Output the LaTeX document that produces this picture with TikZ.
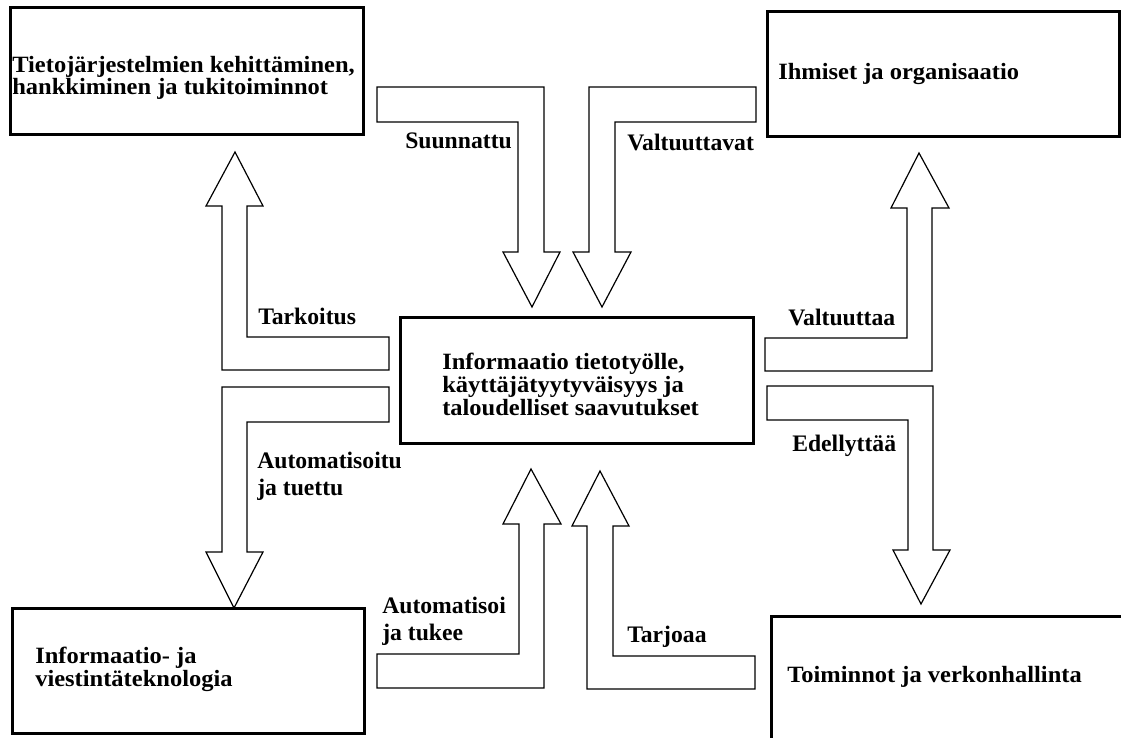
\documentclass[tikz,border=0pt]{standalone}
\usepackage{fontspec}
\setmainfont{Liberation Serif}
\newfontfamily\boxfont[FakeStretch=1.05]{Liberation Serif}
\begin{document}
\begin{tikzpicture}[x=0.75pt,y=-0.75pt,
  box/.style={draw=black, line width=2.25pt, inner sep=0pt, outer sep=0pt, anchor=north west},
  blockarrow/.style={draw=black, line width=0.9pt, fill=white, line join=miter},
  boxtext/.style={anchor=base west, inner sep=0pt, align=left,
    font=\boxfont\bfseries\fontsize{17.5pt}{17pt}\selectfont},
  arrowlabel/.style={anchor=base west, inner sep=0pt, align=left,
    font=\bfseries\fontsize{17.75pt}{20pt}\selectfont}]
\useasboundingbox (0,0) rectangle (1121,738);
\clip (0,0) rectangle (1121,738);
\fill[white] (0,0) rectangle (1121,738);

% framed boxes
\node[box, minimum width=264.75pt, minimum height=95.25pt] (sys) at (10,8) {};
\node[box, minimum width=264pt, minimum height=93.75pt] (org) at (767,12) {};
\node[box, minimum width=264.75pt, minimum height=94.5pt] (info) at (400,317) {};
\node[box, minimum width=264pt, minimum height=93.75pt] (ict) at (12,608) {};
\node[box, minimum width=270pt, minimum height=100pt] (ops) at (771,616) {};

% box texts (multi-line nodes sit on the baseline of their last line)
\node[boxtext] (syst) at (12,95) {Tietojärjestelmien kehittäminen,\\hankkiminen ja tukitoiminnot};
\node[boxtext] (orgt) at (778,80) {Ihmiset ja organisaatio};
\node[boxtext] (infot) at (442,415) {Informaatio tietotyölle,\\käyttäjätyytyväisyys ja\\taloudelliset saavutukset};
\node[boxtext] (ictt) at (35,686) {Informaatio- ja\\viestintäteknologia};
\node[boxtext] (opst) at (787,682) {Toiminnot ja verkonhallinta};

% L-shaped block arrows
% Tarkoitus: centre -> upper left
\draw[blockarrow] (235,152) -- (263,206) -- (247,206) -- (247,337) -- (389,337)
  -- (389,370) -- (222,370) -- (222,206) -- (206,206) -- cycle;
% Suunnattu: upper left -> centre
\draw[blockarrow] (377,87) -- (544,87) -- (544,252) -- (560,252) -- (532,307)
  -- (503,252) -- (518,252) -- (518,122) -- (377,122) -- cycle;
% Valtuuttavat: upper right -> centre
\draw[blockarrow] (756,87) -- (589,87) -- (589,252) -- (573,252) -- (602,307)
  -- (631,252) -- (615,252) -- (615,122) -- (756,122) -- cycle;
% Valtuuttaa: centre -> upper right
\draw[blockarrow] (919,153) -- (949,208) -- (932,208) -- (932,371) -- (765,371)
  -- (765,338) -- (907,338) -- (907,208) -- (891,208) -- cycle;
% Automatisoitu ja tuettu: centre -> lower left
\draw[blockarrow] (389,387) -- (222,387) -- (222,552) -- (206,552) -- (234,608)
  -- (263,552) -- (247,552) -- (247,422) -- (389,422) -- cycle;
% Automatisoi ja tukee: lower left -> centre
\draw[blockarrow] (531,469) -- (561,524) -- (544,524) -- (544,688) -- (377,688)
  -- (377,654) -- (519,654) -- (519,524) -- (503,524) -- cycle;
% Tarjoaa: lower right -> centre
\draw[blockarrow] (600,471) -- (629,526) -- (613,526) -- (613,656) -- (755,656)
  -- (755,689) -- (587,689) -- (587,526) -- (572,526) -- cycle;
% Edellyttää: centre -> lower right
\draw[blockarrow] (767,386) -- (933,386) -- (933,550) -- (950,550) -- (921,604)
  -- (893,550) -- (908,550) -- (908,420) -- (767,420) -- cycle;

% arrow labels
\node[arrowlabel] (l1) at (258,324) {Tarkoitus};
\node[arrowlabel] (l2) at (405,149) {Suunnattu};
\node[arrowlabel] (l3) at (627,151) {Valtuuttavat};
\node[arrowlabel] (l4) at (788,325) {Valtuuttaa};
\node[arrowlabel] (l5) at (257,495) {Automatisoitu\\ja tuettu};
\node[arrowlabel] (l6) at (382,640) {Automatisoi\\ja tukee};
\node[arrowlabel] (l7) at (627,642) {Tarjoaa};
\node[arrowlabel] (l8) at (792,451) {Edellyttää};
\end{tikzpicture}
\end{document}
